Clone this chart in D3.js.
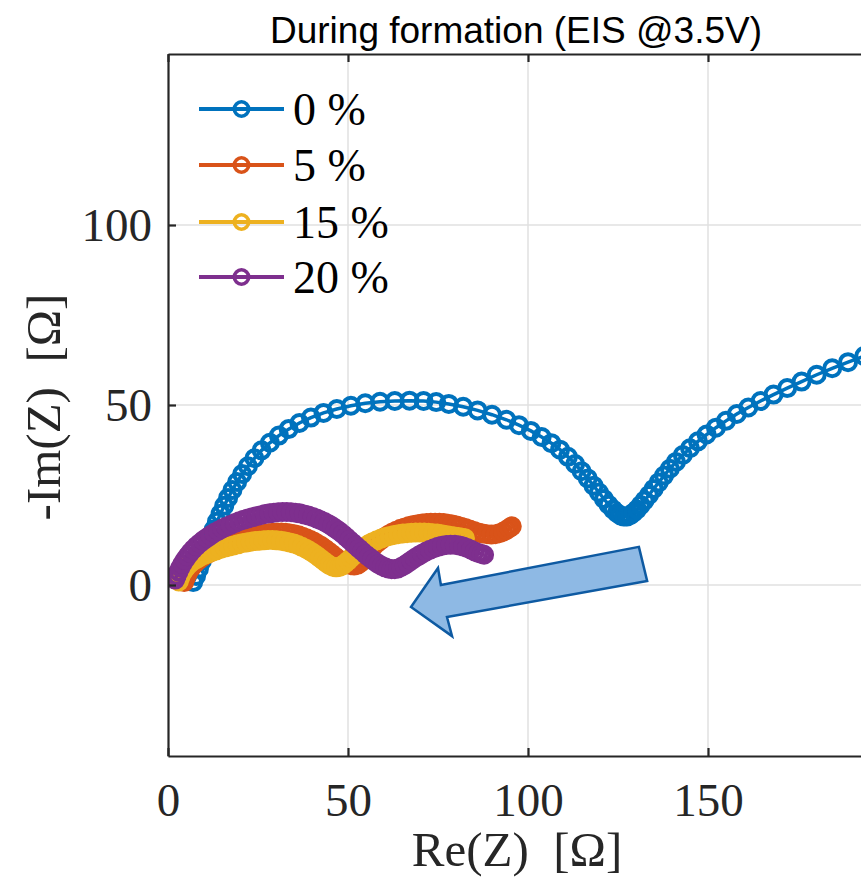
<html>
<head>
<meta charset="utf-8">
<script src="https://cdn.jsdelivr.net/npm/d3@7"></script>
<style>
  body { margin: 0; background: #fff; }
</style>
</head>
<body>
<div id="chart"></div>
<script>
// EIS Nyquist data: [Re(Z), -Im(Z)] in ohm
var s0 = [[7.0,0.8],[7.8,2.5],[8.6,4.5],[9.4,6.6],[10.2,8.8],[11.0,11.0],[11.8,13.2],[12.7,15.4],
  [13.6,17.6],[14.6,19.8],[15.6,22.0],[16.7,24.2],[17.9,26.4],[19.2,28.6],[20.6,30.8],[22.2,33.0],
  [24.0,35.2],[26.0,37.4],[28.3,39.5],[30.8,41.5],[33.5,43.3],[36.5,45.0],[39.7,46.5],[43.2,47.8],
  [46.9,48.9],[50.8,49.8],[54.8,50.5],[58.9,50.9],[63.0,51.1],[67.1,51.2],[71.0,51.1],[74.5,50.8],
  [78.0,50.3],[82.0,49.5],[86.0,48.5],[90.0,47.3],[94.0,45.9],[97.5,44.4],[100.8,42.8],[103.8,41.1],
  [106.5,39.4],[108.9,37.6],[111.1,35.6],[113.1,33.6],[114.9,31.6],[116.6,29.6],[118.2,27.6],
  [119.7,25.7],[121.1,23.9],[122.4,22.3],[123.6,21.0],[124.7,20.0],[125.7,19.3],[126.6,19.0],
  [127.5,19.0],[128.4,19.4],[129.3,20.1],[130.3,21.0],[131.3,22.2],[132.4,23.5],[133.6,25.0],
  [134.9,26.7],[136.3,28.5],[137.8,30.4],[139.4,32.3],[141.1,34.2],[143.0,36.1],[145.0,38.0],
  [147.2,39.9],[149.6,41.8],[152.2,43.7],[155.0,45.6],[158.0,47.5],[161.2,49.3],[164.6,51.1],
  [168.2,52.9],[172.0,54.7],[176.0,56.5],[180.2,58.4],[184.5,60.2],[188.9,61.9],[193.4,63.6]];

var s5 = [[4.5,0.8],[4.9,1.9],[5.4,3.0],[6.0,4.1],[6.7,5.1],[7.5,6.0],[8.4,6.8],[9.4,7.6],[10.4,8.3],
  [11.5,8.9],[12.6,9.5],[13.7,10.0],[14.8,10.5],[15.9,11.0],[17.1,11.5],[18.3,11.9],[19.5,12.3],
  [20.7,12.7],[21.9,13.1],[23.1,13.4],[24.3,13.7],[25.5,14.0],[26.7,14.2],[27.9,14.4],[29.1,14.5],
  [30.3,14.6],[31.5,14.6],[32.7,14.5],[33.9,14.3],[35.1,14.1],[36.3,13.8],[37.4,13.4],[38.5,13.0],
  [39.6,12.5],[40.6,12.0],[41.6,11.4],[42.6,10.8],[43.6,10.1],[44.5,9.4],[45.4,8.7],[46.3,8.0],
  [47.2,7.3],[48.1,6.7],[49.0,6.2],[49.9,5.8],[50.8,5.5],[51.7,5.4],[52.6,5.6],[53.4,6.1],[54.1,6.9],
  [54.8,7.8],[55.5,8.8],[56.3,9.8],[57.1,10.7],[58.0,11.6],[59.0,12.4],[60.0,13.2],[61.1,13.9],
  [62.2,14.5],[63.4,15.1],[64.6,15.6],[65.8,16.0],[67.0,16.4],[68.2,16.7],[69.4,16.9],[70.6,17.1],
  [71.8,17.2],[73.0,17.3],[74.2,17.3],[75.4,17.3],[76.6,17.2],[77.8,17.0],[79.0,16.8],[80.2,16.5],
  [81.4,16.2],[82.6,15.8],[83.8,15.4],[85.0,15.0],[86.2,14.6],[87.4,14.3],[88.6,14.1],[89.8,14.0],
  [91.0,14.1],[92.1,14.4],[93.1,14.8],[94.0,15.3],[94.8,15.8],[95.5,16.3]];

var s15 = [[3.0,1.0],[3.4,2.1],[3.9,3.2],[4.5,4.2],[5.2,5.1],[6.0,5.9],[6.9,6.6],[7.9,7.2],[8.9,7.8],
  [10.0,8.3],[11.1,8.8],[12.2,9.2],[13.4,9.6],[14.6,10.0],[15.8,10.4],[17.0,10.7],[18.2,11.0],
  [19.4,11.3],[20.6,11.6],[21.8,11.8],[23.0,12.0],[24.2,12.2],[25.4,12.3],[26.6,12.4],[27.8,12.5],
  [29.0,12.5],[30.2,12.4],[31.4,12.3],[32.6,12.1],[33.8,11.8],[35.0,11.5],[36.1,11.1],[37.2,10.6],
  [38.3,10.1],[39.3,9.5],[40.3,8.9],[41.3,8.2],[42.2,7.5],[43.1,6.8],[44.0,6.1],[44.9,5.5],
  [45.8,5.1],[46.7,4.9],[47.6,5.0],[48.4,5.4],[49.2,6.0],[50.0,6.7],[50.8,7.5],[51.7,8.3],[52.6,9.1],
  [53.6,9.9],[54.6,10.6],[55.7,11.3],[56.8,11.9],[58.0,12.4],[59.2,12.9],[60.4,13.3],[61.6,13.6],
  [62.8,13.9],[64.0,14.1],[65.2,14.3],[66.4,14.4],[67.6,14.5],[68.8,14.6],[70.0,14.6],[71.2,14.6],
  [72.4,14.5],[73.6,14.4],[74.8,14.3],[76.0,14.1],[77.2,13.9],[78.4,13.7],[79.6,13.5],[80.7,13.3],
  [81.7,13.1],[82.5,13.0]];

var s20 = [[2.0,1.5],[2.4,2.6],[2.9,3.7],[3.4,4.8],[4.0,5.9],[4.7,7.0],[5.4,8.0],[6.2,9.0],[7.0,9.9],
  [7.9,10.8],[8.8,11.6],[9.8,12.4],[10.8,13.1],[11.8,13.8],[12.9,14.5],[14.0,15.1],[15.1,15.7],
  [16.2,16.2],[17.4,16.7],[18.6,17.2],[19.8,17.7],[21.0,18.1],[22.2,18.5],[23.4,18.8],[24.6,19.1],
  [25.8,19.4],[27.0,19.7],[28.2,19.9],[29.4,20.1],[30.6,20.2],[31.8,20.3],[33.0,20.3],[34.2,20.2],
  [35.4,20.1],[36.6,19.9],[37.8,19.6],[39.0,19.3],[40.2,18.9],[41.3,18.5],[42.4,18.0],[43.5,17.5],
  [44.6,16.9],[45.6,16.3],[46.6,15.6],[47.6,14.9],[48.6,14.1],[49.5,13.3],[50.4,12.5],[51.3,11.7],
  [52.2,10.9],[53.1,10.1],[54.0,9.3],[54.9,8.5],[55.8,7.8],[56.7,7.1],[57.6,6.4],[58.5,5.8],
  [59.4,5.3],[60.3,4.9],[61.2,4.6],[62.1,4.4],[63.0,4.4],[63.9,4.6],[64.8,5.0],[65.7,5.5],[66.6,6.1],
  [67.6,6.8],[68.6,7.5],[69.6,8.1],[70.6,8.7],[71.7,9.3],[72.8,9.8],[73.9,10.2],[75.0,10.6],
  [76.1,10.9],[77.3,11.1],[78.5,11.2],[79.7,11.2],[80.9,11.0],[82.0,10.7],[83.1,10.3],[84.2,9.8],
  [85.2,9.3],[86.2,8.9],[87.1,8.6],[87.8,8.4]];

var seriesNames = ["0 %", "5 %", "15 %", "20 %"];
var seriesColors = ["#0072BD", "#D95319", "#EDB120", "#7E2F8E"];
var seriesData = [s0, s5, s15, s20];

var xTicks = [0, 50, 100, 150, 200];
var yTicks = [-50, 0, 50, 100, 150];

// arrow outline in data units
var arrowPts = [[130.8,10.6],[133.1,1.1],[77.5,-8.9],[78.9,-14.2],[67.5,-6.1],[75.0,4.7],[75.8,0.0]];

var W = 861, H = 879;
var mLeft = 168, mTop = 54, mBottom = 756, mRight = 870;

var svg = d3.select("#chart").append("svg")
  .attr("width", W).attr("height", H);

var x = d3.scaleLinear().domain([0, 195]).range([mLeft, mRight]);
var y = d3.scaleLinear().domain([-47.5, 147.5]).range([mBottom, mTop]);

var serif = "'Liberation Serif', 'DejaVu Serif', serif";

svg.append("defs").append("clipPath").attr("id", "clip")
  .append("rect").attr("x", mLeft).attr("y", mTop)
  .attr("width", mRight - mLeft).attr("height", mBottom - mTop);

// grid
var xt = xTicks.filter(function (d) { return d >= x.domain()[0] && d <= x.domain()[1]; });
var yt = yTicks.filter(function (d) { return d >= y.domain()[0] && d <= y.domain()[1]; });

var grid = svg.append("g");
grid.selectAll(".gx").data(xt.slice(1)).enter().append("line")
  .attr("x1", x).attr("x2", x).attr("y1", mTop).attr("y2", mBottom)
  .attr("stroke", "#e1e1e1").attr("stroke-width", 1.5);
grid.selectAll(".gy").data(yt).enter().append("line")
  .attr("y1", y).attr("y2", y).attr("x1", mLeft).attr("x2", mRight)
  .attr("stroke", "#e1e1e1").attr("stroke-width", 1.5);

// series
var plot = svg.append("g").attr("clip-path", "url(#clip)");
var line = d3.line().x(function (d) { return x(d[0]); }).y(function (d) { return y(d[1]); });

seriesData.forEach(function (data, i) {
  var g = plot.append("g");
  g.append("path").datum(data).attr("d", line)
    .attr("fill", "none").attr("stroke", seriesColors[i]).attr("stroke-width", 3.5);
  g.selectAll("circle").data(data).enter().append("circle")
    .attr("cx", function (d) { return x(d[0]); })
    .attr("cy", function (d) { return y(d[1]); })
    .attr("r", 8)
    .attr("fill", "none").attr("stroke", seriesColors[i]).attr("stroke-width", 4);
});

// arrow annotation
svg.append("polygon")
  .attr("points", arrowPts.map(function (p) { return x(p[0]) + "," + y(p[1]); }).join(" "))
  .attr("fill", "#8EB9E4").attr("stroke", "#0E5AA2").attr("stroke-width", 2.5)
  .attr("stroke-linejoin", "miter");

// axes (ticks inward)
var axisColor = "#262626";
var gx = svg.append("g").attr("transform", "translate(0," + mBottom + ")")
  .call(d3.axisBottom(x).tickValues(xt).tickSize(-8).tickPadding(27).tickSizeOuter(0));
var gxTop = svg.append("g").attr("transform", "translate(0," + mTop + ")")
  .call(d3.axisTop(x).tickValues(xt).tickSize(-8).tickFormat("").tickSizeOuter(0));
var gy = svg.append("g").attr("transform", "translate(" + mLeft + ",0)")
  .call(d3.axisLeft(y).tickValues(yt).tickSize(-8).tickPadding(16).tickSizeOuter(0));

[gx, gxTop, gy].forEach(function (g) {
  g.select(".domain").attr("stroke", axisColor).attr("stroke-width", 2.2);
  g.selectAll(".tick line").attr("stroke", axisColor).attr("stroke-width", 2.2);
  g.selectAll(".tick text").attr("fill", "#262626")
    .style("font-family", serif).style("font-size", "47px");
});
gx.selectAll(".tick text").attr("dy", "0.71em");
gy.selectAll(".tick text").attr("dy", "0.34em");

// titles
svg.append("text")
  .attr("x", 516).attr("y", 43)
  .attr("text-anchor", "middle")
  .style("font-family", "'Liberation Sans', Arial, sans-serif")
  .style("font-size", "37px")
  .attr("fill", "#000")
  .text("During formation (EIS @3.5V)");

svg.append("text")
  .attr("x", 517).attr("y", 866)
  .attr("text-anchor", "middle")
  .style("font-family", serif).style("font-size", "49px")
  .attr("fill", "#262626")
  .text("Re(Z)\u00a0 [\u03a9]");

svg.append("text")
  .attr("transform", "translate(60,407) rotate(-90)")
  .attr("text-anchor", "middle")
  .style("font-family", serif).style("font-size", "49px")
  .attr("fill", "#262626")
  .text("-Im(Z)\u00a0 [\u03a9]");

// legend
var legY = [109, 165, 222, 277];
var leg = svg.append("g");
seriesNames.forEach(function (name, i) {
  var row = leg.append("g").attr("transform", "translate(0," + legY[i] + ")");
  row.append("line").attr("x1", 199).attr("x2", 284).attr("y1", 0).attr("y2", 0)
    .attr("stroke", seriesColors[i]).attr("stroke-width", 4);
  row.append("circle").attr("cx", 241.5).attr("cy", 0).attr("r", 7.2)
    .attr("fill", "none").attr("stroke", seriesColors[i]).attr("stroke-width", 3.6);
  row.append("text").attr("x", 293).attr("y", 16)
    .style("font-family", serif).style("font-size", "46px")
    .attr("fill", "#000")
    .text(name);
});
</script>
</body>
</html>
